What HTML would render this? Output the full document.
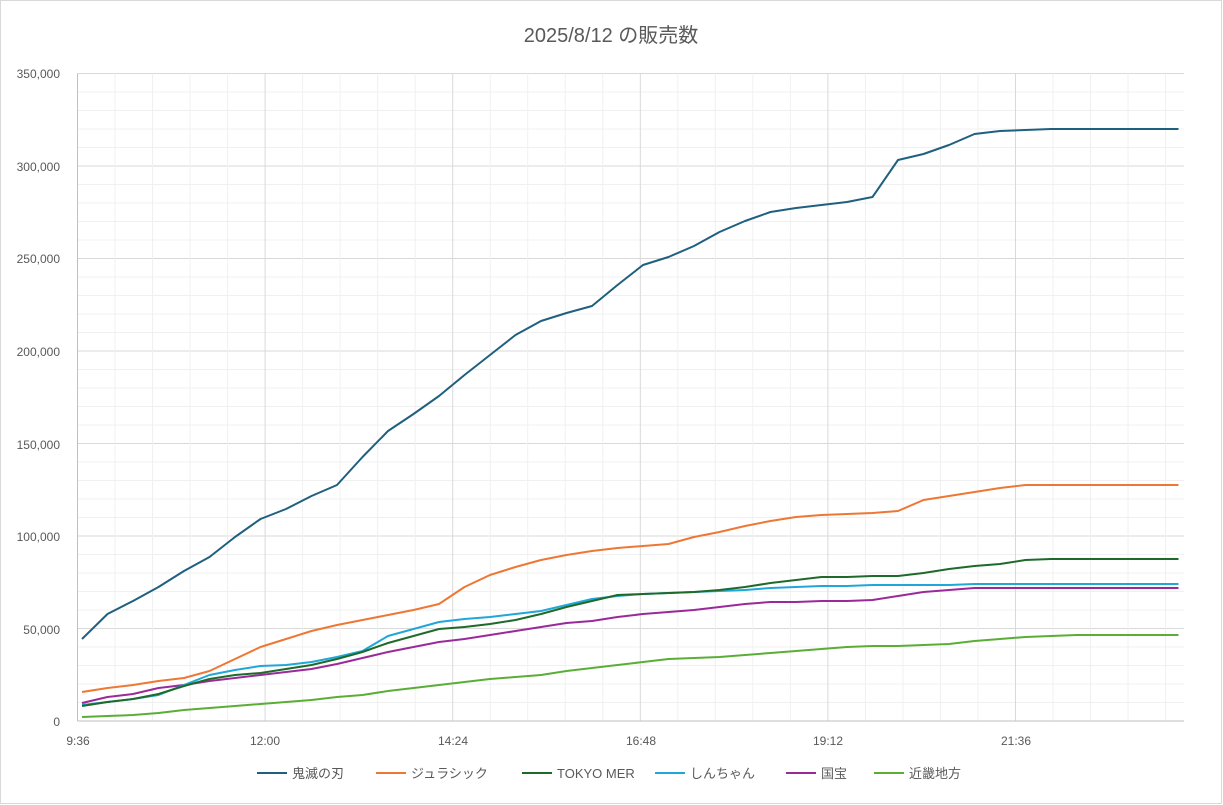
<!DOCTYPE html>
<html><head><meta charset="utf-8"><style>
body{margin:0;background:#fff}
svg{display:block;font-family:"Liberation Sans","Noto Sans CJK JP",sans-serif}
</style></head><body>
<svg id="s" width="1223" height="805" viewBox="0 0 1223 805" xmlns="http://www.w3.org/2000/svg">
<rect x="0.5" y="0.5" width="1221" height="803" fill="#fff" stroke="#d9d9d9"/>
<text x="611" y="42" text-anchor="middle" font-size="20" fill="#595959">2025/8/12 の販売数</text>
<g id="grid"></g>
<g id="lines" fill="none" stroke-width="2" stroke-linejoin="round"></g>
<g font-size="12" fill="#595959" text-anchor="end">
<text x="60" y="78">350,000</text><text x="60" y="171">300,000</text><text x="60" y="263">250,000</text>
<text x="60" y="356">200,000</text><text x="60" y="449">150,000</text><text x="60" y="541">100,000</text>
<text x="60" y="634">50,000</text><text x="60" y="726">0</text>
</g>
<g font-size="12" fill="#595959" text-anchor="middle">
<text x="78" y="745">9:36</text><text x="265" y="745">12:00</text><text x="453" y="745">14:24</text>
<text x="641" y="745">16:48</text><text x="828" y="745">19:12</text><text x="1016" y="745">21:36</text>
</g>
<g font-size="13" fill="#595959">
<line x1="257" y1="773" x2="287" y2="773" stroke="#1f5f7f" stroke-width="2"/><text x="292" y="778">鬼滅の刃</text>
<line x1="376" y1="773" x2="406" y2="773" stroke="#ee7733" stroke-width="2"/><text x="411" y="778">ジュラシック</text>
<line x1="522" y1="773" x2="552" y2="773" stroke="#1e6a2a" stroke-width="2"/><text x="557" y="778">TOKYO MER</text>
<line x1="655" y1="773" x2="685" y2="773" stroke="#1ea7d8" stroke-width="2"/><text x="690" y="778">しんちゃん</text>
<line x1="786" y1="773" x2="816" y2="773" stroke="#9a2a9a" stroke-width="2"/><text x="821" y="778">国宝</text>
<line x1="874" y1="773" x2="904" y2="773" stroke="#5aae36" stroke-width="2"/><text x="909" y="778">近畿地方</text>
</g>
</svg>
<script>
var NS="http://www.w3.org/2000/svg";
function el(p,t,a){var e=document.createElementNS(NS,t);for(var k in a)e.setAttribute(k,a[k]);p.appendChild(e);return e;}
var g=document.getElementById('grid');
var L=77.5,R=1184,T=73.5,B=721;
for(var i=0;i<=35;i++){var y=T+(B-T)*i/35;el(g,'line',{x1:L,x2:R,y1:y,y2:y,stroke:i%5==0?'#d9d9d9':'#f0f0f0','stroke-width':1});}
var st=187.6/5;
for(var i=0;;i++){var x=L+st*i;if(x>R+1)break;el(g,'line',{x1:x,x2:x,y1:T,y2:B,stroke:i%5==0?'#d9d9d9':'#f0f0f0','stroke-width':1});}
el(g,'line',{x1:L,x2:R,y1:B,y2:B,stroke:'#bfbfbf','stroke-width':1});
el(g,'line',{x1:L,x2:L,y1:T,y2:B,stroke:'#bfbfbf','stroke-width':1});
var D=[
['#1f5f7f',[639,614,601,587,571,557,537,519,509,496,485,457,431,414,396,375,355,335,321,313,306,285,265,257,246,232,221,212,208,205,202,197,160,154,145,134,131,130,129,129,129,129,129,129]],
['#ee7733',[692,688,685,681,678,671,659,647,639,631,625,620,615,610,604,587,575,567,560,555,551,548,546,544,537,532,526,521,517,515,514,513,511,500,496,492,488,485,485,485,485,485,485,485]],
['#1e6a2a',[706,702,699,694,686,679,675,673,669,665,659,652,643,636,629,627,624,620,614,607,601,595,594,593,592,590,587,583,580,577,577,576,576,573,569,566,564,560,559,559,559,559,559,559]],
['#1ea7d8',[705,702,699,695,685,675,670,666,665,662,657,651,636,629,622,619,617,614,611,605,599,596,594,593,592,591,590,588,587,586,586,585,585,585,585,584,584,584,584,584,584,584,584,584]],
['#9a2a9a',[703,697,694,688,685,681,678,675,672,669,664,658,652,647,642,639,635,631,627,623,621,617,614,612,610,607,604,602,602,601,601,600,596,592,590,588,588,588,588,588,588,588,588,588]],
['#5aae36',[717,716,715,713,710,708,706,704,702,700,697,695,691,688,685,682,679,677,675,671,668,665,662,659,658,657,655,653,651,649,647,646,646,645,644,641,639,637,636,635,635,635,635,635]]];
var lg=document.getElementById('lines');
D.slice().reverse().forEach(function(s){var p=s[1].map(function(y,i){return (82+25.5*i).toFixed(1)+','+y;}).join(' ');el(lg,'polyline',{points:p,stroke:s[0]});});
</script>
</body></html>
